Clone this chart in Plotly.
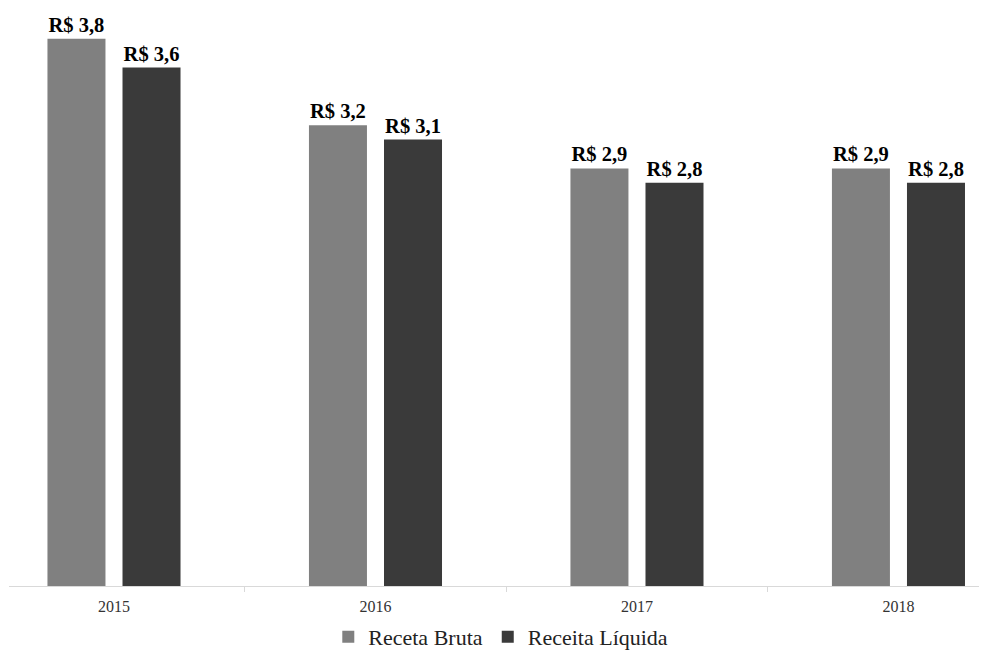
import plotly.graph_objects as go

# Receita anual (R$ bilhões)
anos = ["2015", "2016", "2017", "2018"]
receita_bruta = [3.8, 3.2, 2.9, 2.9]
receita_liquida = [3.6, 3.1, 2.8, 2.8]

serie_nomes = ["Receta Bruta", "Receita Líquida"]
serie_cores = ["#808080", "#3a3a3a"]

FONTE = "Liberation Serif"

fig = go.Figure()
for nome, valores, cor in zip(serie_nomes, [receita_bruta, receita_liquida], serie_cores):
    fig.add_trace(go.Bar(
        x=anos,
        y=valores,
        name=nome,
        marker=dict(color=cor, line=dict(width=0)),
        texttemplate="<b>R$ %{y:.1f}</b>",
        textposition="outside",
        textfont=dict(family=FONTE, size=20.5, color="#000000"),
        cliponaxis=False,
    ))

fig.update_layout(
    width=989,
    height=654,
    margin=dict(l=9, r=10, t=0, b=68, autoexpand=False),
    paper_bgcolor="white",
    plot_bgcolor="white",
    separators=",.",
    barmode="group",
    bargap=0.426,
    bargroupgap=0.227,
    font=dict(family=FONTE, color="#333333"),
    showlegend=True,
    legend=dict(
        orientation="h",
        x=0.507,
        xanchor="center",
        yref="container",
        y=0.058,
        yanchor="top",
        font=dict(family=FONTE, size=22, color="#222222"),
        itemclick=False,
        traceorder="normal",
    ),
    xaxis=dict(
        type="category",
        range=[-0.4015, 3.308],
        showline=True,
        linecolor="#d9d9d9",
        linewidth=1,
        ticks="outside",
        tickson="boundaries",
        ticklen=5,
        tickcolor="#d9d9d9",
        ticklabelstandoff=6,
        showgrid=False,
        automargin=False,
        tickfont=dict(family=FONTE, size=16, color="#333333"),
    ),
    yaxis=dict(
        range=[0, 586 / 144],
        visible=False,
        showgrid=False,
        zeroline=False,
    ),
)

fig.write_html("out.html")
